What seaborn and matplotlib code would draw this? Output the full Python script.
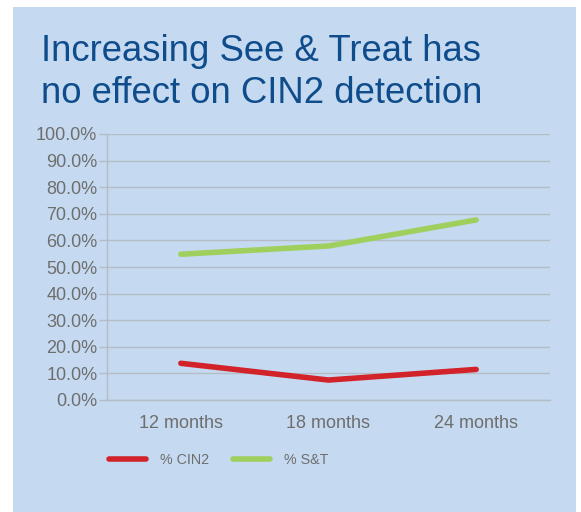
import numpy as np
import pandas as pd
import matplotlib.pyplot as plt
import matplotlib.patches as mpatches
import matplotlib.ticker as mticker
import seaborn as sns

# data
periods = ['12 months', '18 months', '24 months']
cin2 = [13.8, 7.5, 11.5]
see_treat = [54.8, 57.9, 67.7]
series_names = ['% CIN2', '% S&T']
title_lines = ['Increasing See & Treat has', 'no effect on CIN2 detection']

df = pd.DataFrame({
    'Period': periods * 2,
    'Value': cin2 + see_treat,
    'Series': [series_names[0]] * 3 + [series_names[1]] * 3,
})
df['x'] = df['Period'].map({p: i for i, p in enumerate(periods)})

sns.set_theme(style='white')
plt.rcParams['font.family'] = ['Liberation Sans', 'DejaVu Sans']

bg = '#c5daf0'
grid_col = '#b5bcc6'
text_col = '#6e6e6e'

fig = plt.figure(figsize=(5.81, 5.12), dpi=100)
fig.patch.set_facecolor('white')
fig.patches.append(mpatches.Rectangle((13 / 581, 0), 563 / 581, 505 / 512,
                                      transform=fig.transFigure, facecolor=bg,
                                      edgecolor='none', zorder=-5))

for i, line in enumerate(title_lines):
    fig.text(41 / 581, 1 - (61 + 42 * i) / 512, line, color='#0f4c8c', fontsize=26.3,
             ha='left', va='baseline')

ax = fig.add_axes([107 / 581, 112 / 512, 443 / 581, 266 / 512])
ax.set_facecolor('none')

sns.lineplot(data=df, x='x', y='Value', hue='Series', palette=['#d2232a', '#9fcf5c'],
             linewidth=4, ax=ax, legend=False, solid_capstyle='round')

ax.set_xlim(-0.5, 2.5)
ax.set_ylim(0, 100)
ax.yaxis.set_major_locator(mticker.MultipleLocator(10))
ax.yaxis.set_major_formatter(mticker.FuncFormatter(lambda v, _: f'{v:.1f}%'))
ax.set_xticks(range(len(periods)))
ax.set_xticklabels(periods)
ax.set_xticks([-0.5, 0.5, 1.5, 2.5], minor=True)
ax.tick_params(axis='x', which='major', length=0, pad=11, labelsize=13, labelcolor=text_col)
ax.tick_params(axis='x', which='minor', length=7, width=1, color=grid_col, direction='out')
ax.tick_params(axis='y', length=6, width=1, color=grid_col, labelsize=13,
               labelcolor=text_col, pad=1, left=True)
ax.yaxis.grid(True, color=grid_col, linewidth=1)
ax.set_axisbelow(True)
for s in ['top', 'right']:
    ax.spines[s].set_visible(False)
for s in ['left', 'bottom']:
    ax.spines[s].set_color(grid_col)
    ax.spines[s].set_linewidth(1)
ax.set_xlabel('')
ax.set_ylabel('')

handles = [plt.Line2D([], [], color=c, linewidth=4, solid_capstyle='round')
           for c in ['#d2232a', '#9fcf5c']]
leg = fig.legend(handles, series_names, loc='center left',
                 bbox_to_anchor=(109 / 581, 1 - 460 / 512), ncol=2, frameon=False,
                 fontsize=10.3, handlelength=2.6, columnspacing=1.6, handletextpad=1.0,
                 borderpad=0, borderaxespad=0)
for t in leg.get_texts():
    t.set_color(text_col)

fig.savefig('out.png', dpi=100)
